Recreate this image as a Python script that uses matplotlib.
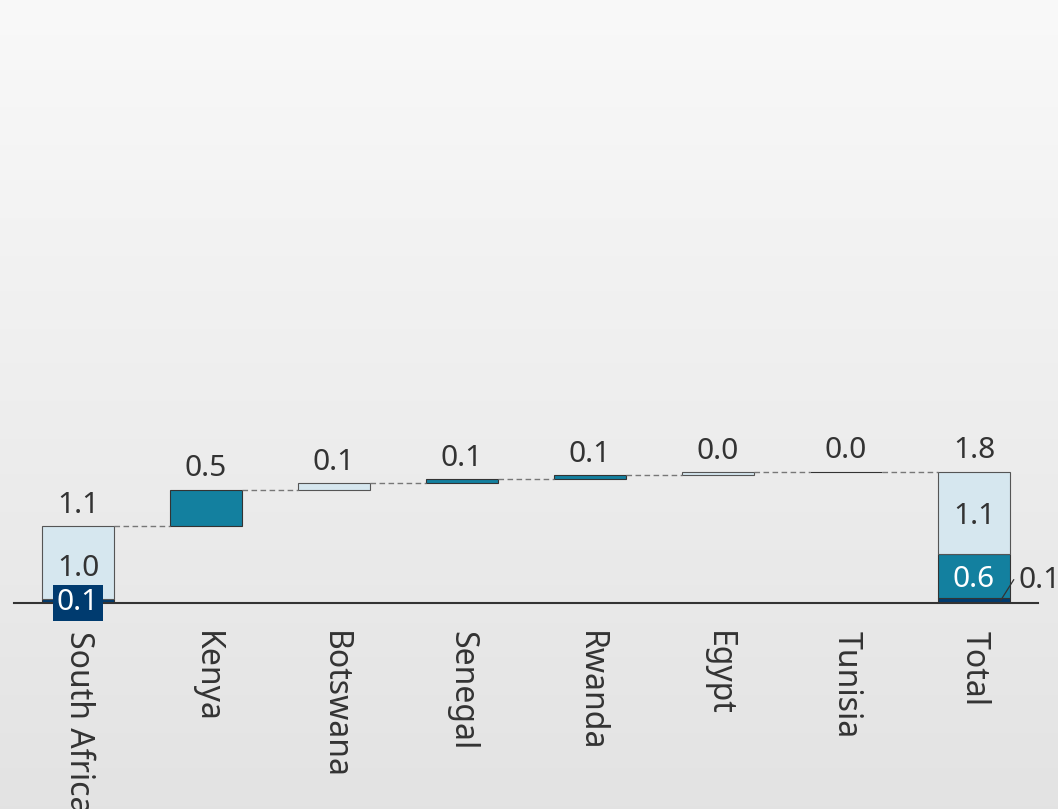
import numpy as np
import matplotlib
matplotlib.use("Agg")
import matplotlib.pyplot as plt

plt.rcParams['font.family'] = ['Noto Sans', 'DejaVu Sans']

# data
countries = ["South Africa", "Kenya", "Botswana", "Senegal", "Rwanda", "Egypt", "Tunisia"]
light_part = [1.00, 0.00, 0.09, 0.00, 0.000, 0.04, 0.000]
teal_part = [0.00, 0.50, 0.00, 0.06, 0.055, 0.00, 0.000]
dark_part = [0.06, 0.00, 0.00, 0.00, 0.000, 0.00, 0.003]
total_label = "Total"

LIGHT = "#d6e7ef"
TEAL = "#13809f"
NAVY = "#003b6f"
TXT = "#333333"

light = np.array(light_part)
teal = np.array(teal_part)
dark = np.array(dark_part)
step = light + teal + dark
tops = np.cumsum(step)
bottoms = tops - step

fig = plt.figure(figsize=(10.58, 8.09), dpi=100)

# background gradient
bg = fig.add_axes([0, 0, 1, 1], zorder=-10)
grad = np.linspace(0.976, 0.89, 256).reshape(-1, 1)
bg.imshow(np.dstack([grad, grad, grad]), aspect="auto", extent=[0, 1, 0, 1])
bg.axis("off")

base_px = 603
scale_px = 72.5
top_px = 20
ymax = (base_px - top_px) / scale_px
ax = fig.add_axes([14 / 1058, 1 - base_px / 809, 1024 / 1058, (base_px - top_px) / 809])
ax.patch.set_alpha(0)
ax.set_xlim(-0.5, 7.5)
ax.set_ylim(0, ymax)

w = 0.555
n = len(countries)
x = np.arange(n)
lab_off = 0.09
fs = 21.5
for i in range(n):
    b = bottoms[i]
    if i == 0:
        ax.bar(x[i], dark[i], w, bottom=b, color=NAVY, edgecolor="#333333", lw=0.8)
        ax.bar(x[i], light[i], w, bottom=b + dark[i], color=LIGHT, edgecolor="#555555", lw=0.8)
    else:
        if light[i] > 0:
            ax.bar(x[i], light[i], w, bottom=b, color=LIGHT, edgecolor="#555555", lw=0.8)
        if teal[i] > 0:
            ax.bar(x[i], teal[i], w, bottom=b, color=TEAL, edgecolor="#333333", lw=0.8)
        if dark[i] > 0:
            ax.bar(x[i], max(dark[i], 0.004), w, bottom=b, color=NAVY, edgecolor="#333333", lw=0.8)
    ax.text(x[i], tops[i] + lab_off, f"{step[i]:.1f}", ha="center", va="bottom",
            fontsize=fs, color=TXT)

# connectors
for i in range(n):
    x_next = x[i] + 1
    ax.plot([x[i] + w / 2, x_next - w / 2], [tops[i], tops[i]], ls=(0, (4, 2.5)),
            color="#777777", lw=1)

# total column
xt = n
tot_dark, tot_teal, tot_light = dark.sum(), teal.sum(), light.sum()
ax.bar(xt, tot_dark, w, color=NAVY, edgecolor="#333333", lw=0.8)
ax.bar(xt, tot_teal, w, bottom=tot_dark, color=TEAL, edgecolor="#333333", lw=0.8)
ax.bar(xt, tot_light, w, bottom=tot_dark + tot_teal, color=LIGHT, edgecolor="#555555", lw=0.8)
total = tops[-1]
ax.text(xt, total + lab_off, f"{total:.1f}", ha="center", va="bottom", fontsize=fs, color=TXT)
ax.text(xt, tot_dark + tot_teal + tot_light / 2 - 0.05, f"{tot_light:.1f}", ha="center",
        va="center", fontsize=fs, color=TXT)
ax.text(xt, tot_dark + tot_teal / 2 - 0.05, f"{tot_teal:.1f}", ha="center", va="center",
        fontsize=fs, color="white")
ax.plot([xt + 0.21, xt + 0.31], [0.04, 0.32], color=TXT, lw=0.9)
ax.text(xt + 0.35, 0.31, f"{tot_dark:.1f}", ha="left", va="center", fontsize=fs,
        color=TXT, clip_on=False)

# inside labels, South Africa
ax.text(x[0], dark[0] + light[0] / 2 - 0.08, f"{light[0]:.1f}", ha="center", va="center",
        fontsize=fs, color=TXT)
ax.text(x[0], 0.0, f"{dark[0]:.1f}", ha="center", va="center", fontsize=fs,
        color="white", zorder=5, clip_on=False,
        bbox=dict(boxstyle="square,pad=0.12", fc=NAVY, ec="none"))

# axis
for s in ["top", "right", "left"]:
    ax.spines[s].set_visible(False)
ax.spines["bottom"].set_color("#333333")
ax.spines["bottom"].set_linewidth(1.5)
ax.set_yticks([])
ax.set_xticks(list(x) + [xt])
ax.set_xticklabels(countries + [total_label], rotation=270, fontsize=23, color=TXT,
                   va="top", ha="center")
ax.tick_params(axis="x", length=0, pad=20)

fig.savefig("out.png", dpi=100)
